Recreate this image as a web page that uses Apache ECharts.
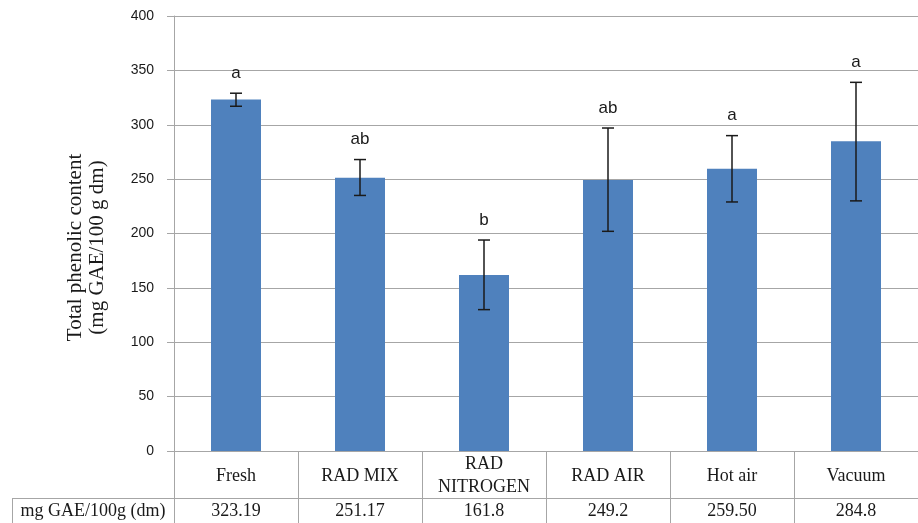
<!DOCTYPE html>
<html>
<head>
<meta charset="utf-8">
<script src="https://cdn.jsdelivr.net/npm/echarts@6/dist/echarts.min.js"></script>
<style>
  html, body { margin: 0; padding: 0; background: #fff; }
  #chart { width: 918px; height: 523px; }
</style>
</head>
<body>
<div id="chart"></div>
<script>
var categories = ['Fresh', 'RAD MIX', 'RAD\nNITROGEN', 'RAD AIR', 'Hot air', 'Vacuum'];
var means = [323.19, 251.17, 161.8, 249.2, 259.5, 284.8];
var tableValues = ['323.19', '251.17', '161.8', '249.2', '259.50', '284.8'];
var errUpper = [329, 268, 194, 297, 290, 339];
var errLower = [317, 235, 130, 202, 229, 230];
var letters = ['a', 'ab', 'b', 'ab', 'a', 'a'];
var yTicks = [0, 50, 100, 150, 200, 250, 300, 350, 400];

var lineGray = '#a6a6a6';
var chart = echarts.init(document.getElementById('chart'));

var errData = [];
for (var i = 0; i < categories.length; i++) {
    errData.push([i, errLower[i], errUpper[i]]);
}

var option = {
    animation: false,
    grid: { left: 174, right: 0, top: 16, bottom: 72 },
    xAxis: [
        {
            type: 'category',
            data: categories,
            position: 'bottom',
            axisLine: { show: true, lineStyle: { color: lineGray, width: 1 } },
            axisTick: { show: true, length: 72, inside: false, lineStyle: { color: lineGray } },
            axisLabel: {
                interval: 0,
                margin: 25,
                verticalAlign: 'middle',
                fontFamily: 'Liberation Serif',
                fontSize: 18,
                lineHeight: 23,
                color: '#1a1a1a'
            }
        },
        {
            type: 'category',
            data: tableValues,
            position: 'bottom',
            offset: 47,
            axisLine: { show: true, lineStyle: { color: lineGray, width: 1 } },
            axisTick: { show: false },
            axisLabel: {
                interval: 0,
                margin: 13,
                verticalAlign: 'middle',
                fontFamily: 'Liberation Serif',
                fontSize: 18,
                color: '#1a1a1a'
            }
        }
    ],
    yAxis: {
        type: 'value',
        min: yTicks[0],
        max: yTicks[yTicks.length - 1],
        interval: 50,
        name: 'Total phenolic content\n(mg GAE/100 g dm)',
        nameLocation: 'middle',
        nameGap: 66,
        nameRotate: 90,
        nameTextStyle: {
            fontFamily: 'Liberation Serif',
            fontSize: 21,
            lineHeight: 22,
            color: '#1a1a1a',
            padding: [0, 28, 0, 0]
        },
        axisLine: { show: true, lineStyle: { color: lineGray } },
        axisTick: { show: true, length: 7, lineStyle: { color: lineGray } },
        axisLabel: {
            margin: 20,
            fontFamily: 'Liberation Sans',
            fontSize: 14,
            color: '#1a1a1a'
        },
        splitLine: { show: true, lineStyle: { color: lineGray } }
    },
    series: [
        {
            type: 'bar',
            data: means,
            barWidth: 50,
            itemStyle: { color: '#4f81bd' }
        },
        {
            type: 'custom',
            data: errData,
            z: 5,
            renderItem: function (params, api) {
                var idx = api.value(0);
                var top = api.coord([idx, api.value(2)]);
                var bot = api.coord([idx, api.value(1)]);
                var cap = 6;
                var st = { stroke: '#1a1a1a', lineWidth: 1.5 };
                return {
                    type: 'group',
                    children: [
                        { type: 'line', shape: { x1: top[0], y1: top[1], x2: bot[0], y2: bot[1] }, style: st },
                        { type: 'line', shape: { x1: top[0] - cap, y1: top[1], x2: top[0] + cap, y2: top[1] }, style: st },
                        { type: 'line', shape: { x1: bot[0] - cap, y1: bot[1], x2: bot[0] + cap, y2: bot[1] }, style: st },
                        {
                            type: 'text',
                            style: {
                                text: letters[params.dataIndex],
                                x: top[0],
                                y: top[1] - 20,
                                align: 'center',
                                verticalAlign: 'middle',
                                fontFamily: 'Liberation Sans',
                                fontSize: 17,
                                fill: '#1a1a1a'
                            }
                        }
                    ]
                };
            }
        }
    ],
    graphic: [
        { type: 'line', shape: { x1: 12, y1: 498.5, x2: 174, y2: 498.5 }, style: { stroke: lineGray, lineWidth: 1 } },
        { type: 'line', shape: { x1: 12.5, y1: 498, x2: 12.5, y2: 523 }, style: { stroke: lineGray, lineWidth: 1 } },
        {
            type: 'text',
            style: {
                text: 'mg GAE/100g (dm)',
                x: 93,
                y: 511,
                align: 'center',
                verticalAlign: 'middle',
                fontFamily: 'Liberation Serif',
                fontSize: 18,
                fill: '#1a1a1a'
            }
        }
    ]
};

chart.setOption(option);
</script>
</body>
</html>
